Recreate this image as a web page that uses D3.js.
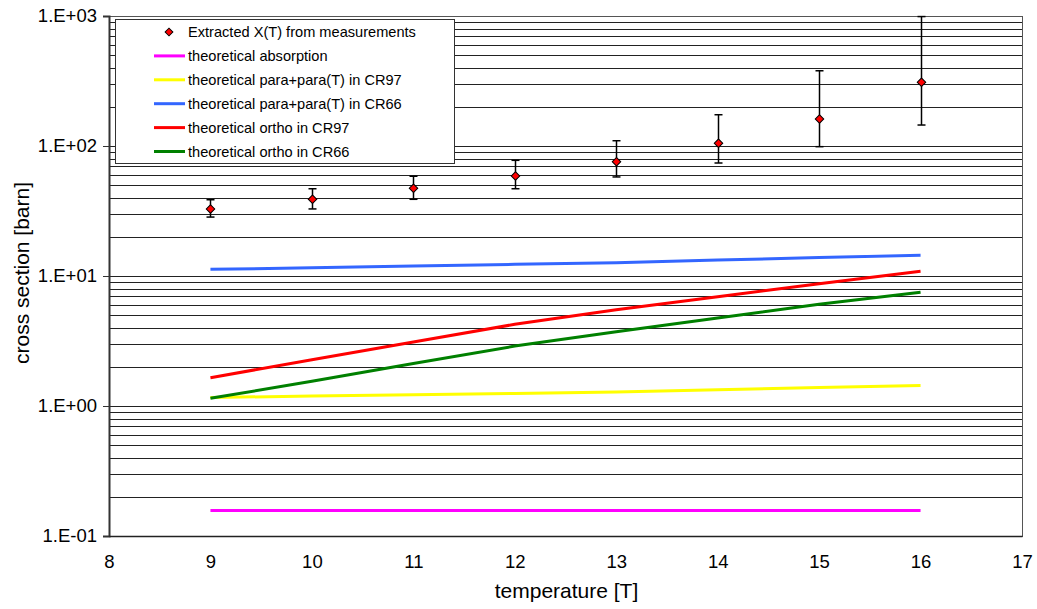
<!DOCTYPE html>
<html>
<head>
<meta charset="utf-8">
<script src="https://cdn.jsdelivr.net/npm/d3@7"></script>
<style>
  body { margin: 0; background: #fff; }
  text { font-family: "Liberation Sans", Arial, sans-serif; fill: #000; }
</style>
</head>
<body>
<div id="chart"></div>
<script>
// data
var temps = [9, 10, 11, 12, 13, 14, 15, 16];
var measured = [32.8, 38.9, 47.3, 58.8, 75.7, 104.9, 161.4, 309];
var errHigh = [38.6, 46.9, 58.5, 77.6, 109.8, 174, 379, 990];
var errLow = [28.4, 32.8, 38.9, 46.9, 57.8, 74.0, 98.8, 145];
var absorption = [0.157, 0.157, 0.157, 0.157, 0.157, 0.157, 0.157, 0.157];
var paraCR97 = [1.16, 1.196, 1.22, 1.25, 1.28, 1.335, 1.39, 1.44];
var paraCR66 = [11.26, 11.56, 11.94, 12.3, 12.65, 13.25, 13.85, 14.43];
var orthoCR97 = [1.65, 2.27, 3.11, 4.25, 5.51, 6.93, 8.73, 10.87];
var orthoCR66 = [1.146, 1.55, 2.12, 2.89, 3.72, 4.75, 6.07, 7.49];

var xTicks = [8, 9, 10, 11, 12, 13, 14, 15, 16, 17];
var yTicks = [0.1, 1, 10, 100, 1000];
var yTickLabels = ["1.E-01", "1.E+00", "1.E+01", "1.E+02", "1.E+03"];

var seriesNames = ["theoretical absorption", "theoretical para+para(T) in CR97", "theoretical para+para(T) in CR66",
  "theoretical ortho in CR97", "theoretical ortho in CR66"];
var seriesValues = [absorption, paraCR97, paraCR66, orthoCR97, orthoCR66];
var seriesColors = ["#ff00ff", "#ffff00", "#3366ff", "#ff0000", "#008000"];

//Dimensions and margins
var margin = { top: 16, right: 15, bottom: 73, left: 109 },
  width = 1037 - margin.left - margin.right,
  height = 609 - margin.top - margin.bottom;

var svg = d3.select("#chart")
  .append("svg")
  .attr("width", 1037)
  .attr("height", 609);

var canvas = svg.append("g")
  .attr("transform", "translate(" + margin.left + "," + margin.top + ")");

var x = d3.scaleLinear().domain([8, 17]).range([0, width]);
var y = d3.scaleLog().domain([0.1, 1000]).range([height, 0]);

// horizontal gridlines at every 1..9 of each decade
var gridVals = [];
yTicks.forEach(function(d) {
  for (var k = 1; k <= 9; k++) {
    if (d * k <= 1000) gridVals.push(d * k);
  }
});

canvas.selectAll(".grid")
  .data(gridVals)
  .enter()
  .append("line")
  .attr("class", "grid")
  .attr("x1", 0)
  .attr("x2", width)
  .attr("y1", function(d) { return Math.round(y(d)) + 0.5; })
  .attr("y2", function(d) { return Math.round(y(d)) + 0.5; })
  .attr("stroke", "#222")
  .attr("stroke-width", 1)
  .attr("shape-rendering", "crispEdges");

// plot border
canvas.append("rect")
  .attr("x", 0.5).attr("y", 0.5)
  .attr("width", width).attr("height", height)
  .attr("fill", "none")
  .attr("stroke", "#555")
  .attr("shape-rendering", "crispEdges");

// Y axis
var yAxis = canvas.append("g")
  .call(d3.axisLeft(y).tickValues(yTicks).tickSize(6).tickPadding(6)
    .tickFormat(function(d, i) { return yTickLabels[i]; }));
yAxis.select(".domain").attr("stroke", "#333").attr("stroke-width", 2);
yAxis.selectAll(".tick line").attr("stroke", "#333");
yAxis.selectAll("text").style("font-size", "18.5px").attr("fill", "#000");

// X axis
var xAxis = canvas.append("g")
  .attr("transform", "translate(0," + height + ")")
  .call(d3.axisBottom(x).tickValues(xTicks).tickSize(0).tickPadding(19).tickFormat(d3.format("d")));
xAxis.select(".domain").attr("stroke", "#222").attr("stroke-width", 1.5);
xAxis.selectAll("text").style("font-size", "18.5px").attr("fill", "#000");

// axis titles
svg.append("text")
  .attr("x", margin.left + width / 2 + 1)
  .attr("y", 598)
  .attr("text-anchor", "middle")
  .style("font-size", "21px")
  .text("temperature [T]");

svg.append("text")
  .attr("transform", "translate(29," + (margin.top + height / 2 - 3) + ")rotate(-90)")
  .attr("text-anchor", "middle")
  .style("font-size", "21px")
  .text("cross section [barn]");

// Legend
var legend = svg.append("g");
legend.append("rect")
  .attr("x", 115.5).attr("y", 19.5)
  .attr("width", 339).attr("height", 144)
  .attr("fill", "#fff")
  .attr("stroke", "#333")
  .attr("shape-rendering", "crispEdges");

var legendRowY = function(i) { return 32 + i * 23.9; };

legend.append("path")
  .attr("d", d3.symbol().type(d3.symbolSquare).size(30))
  .attr("transform", "translate(169," + legendRowY(0) + ")rotate(45)")
  .attr("fill", "#ff0000")
  .attr("stroke", "#000")
  .attr("stroke-width", 1);
legend.append("text")
  .attr("x", 188).attr("y", legendRowY(0))
  .attr("dy", "0.35em")
  .style("font-size", "14.6px")
  .text("Extracted X(T) from measurements");

seriesNames.forEach(function(name, i) {
  legend.append("line")
    .attr("x1", 154).attr("x2", 185)
    .attr("y1", legendRowY(i + 1)).attr("y2", legendRowY(i + 1))
    .attr("stroke", seriesColors[i])
    .attr("stroke-width", 3);
  legend.append("text")
    .attr("x", 188).attr("y", legendRowY(i + 1))
    .attr("dy", "0.35em")
    .style("font-size", "14.6px")
    .text(name);
});

// theory lines
var line = d3.line()
  .x(function(d, i) { return x(temps[i]); })
  .y(function(d) { return y(d); });

seriesValues.forEach(function(vals, i) {
  canvas.append("path")
    .datum(vals)
    .attr("d", line)
    .attr("fill", "none")
    .attr("stroke", seriesColors[i])
    .attr("stroke-width", 3);
});

// error bars
var errG = canvas.append("g");
temps.forEach(function(t, i) {
  var cx = Math.round(x(t)) + 0.5;
  errG.append("line")
    .attr("x1", cx).attr("x2", cx)
    .attr("y1", y(errLow[i])).attr("y2", y(errHigh[i]))
    .attr("stroke", "#000").attr("stroke-width", 1.5);
  [errLow[i], errHigh[i]].forEach(function(v) {
    errG.append("line")
      .attr("x1", cx - 4).attr("x2", cx + 4)
      .attr("y1", y(v)).attr("y2", y(v))
      .attr("stroke", "#000").attr("stroke-width", 1.5);
  });
});

// measured points
canvas.selectAll(".pt")
  .data(measured)
  .enter()
  .append("path")
  .attr("class", "pt")
  .attr("d", d3.symbol().type(d3.symbolSquare).size(36))
  .attr("transform", function(d, i) { return "translate(" + (Math.round(x(temps[i])) + 0.5) + "," + y(d) + ")rotate(45)"; })
  .attr("fill", "#ff0000")
  .attr("stroke", "#000")
  .attr("stroke-width", 1);
</script>
</body>
</html>
